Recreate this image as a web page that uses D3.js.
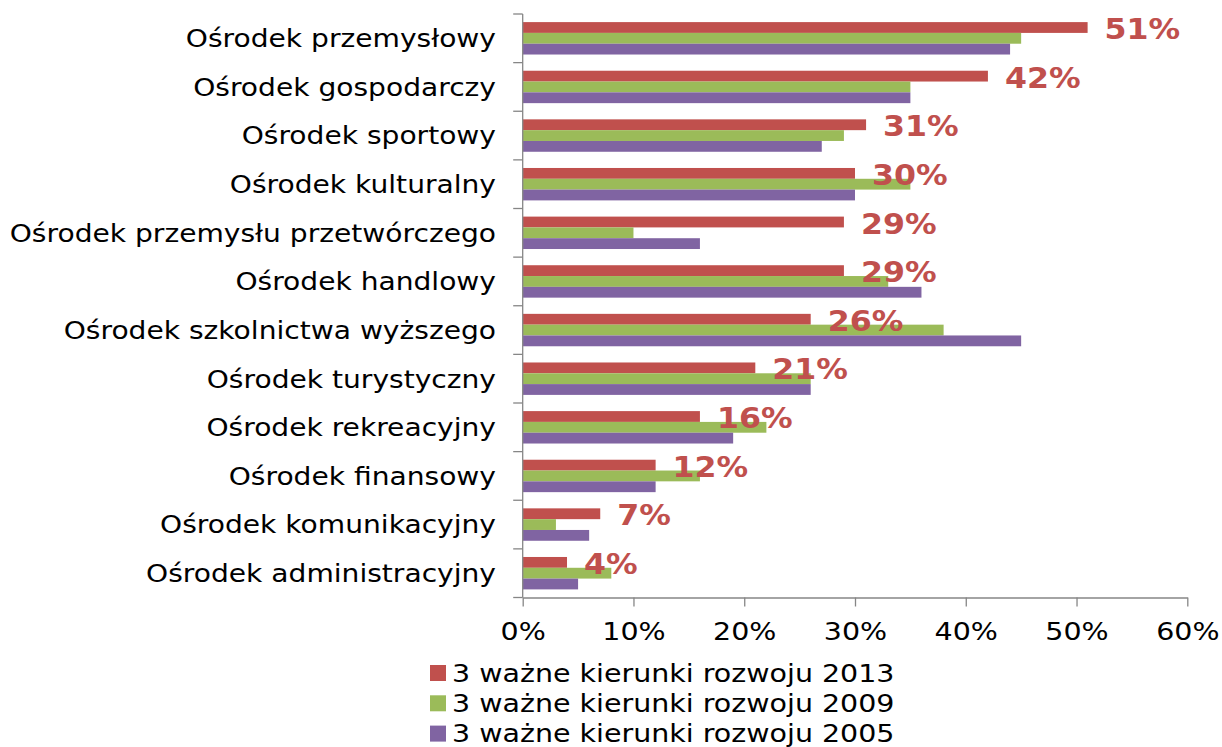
<!DOCTYPE html>
<html><head><meta charset="utf-8">
<script src="https://cdn.jsdelivr.net/npm/d3@7"></script>
<style>
html,body{margin:0;padding:0;background:#fff;}
svg{display:block;font-family:"DejaVu Sans",Verdana,sans-serif;}
</style></head>
<body>
<svg id="chart" width="1222" height="747"></svg>
<script>
const categories = ["Ośrodek przemysłowy","Ośrodek gospodarczy","Ośrodek sportowy","Ośrodek kulturalny","Ośrodek przemysłu przetwórczego","Ośrodek handlowy","Ośrodek szkolnictwa wyższego","Ośrodek turystyczny","Ośrodek rekreacyjny","Ośrodek finansowy","Ośrodek komunikacyjny","Ośrodek administracyjny"];
const seriesNames = ["3 ważne kierunki rozwoju 2013","3 ważne kierunki rozwoju 2009","3 ważne kierunki rozwoju 2005"];
const values2013 = [51,42,31,30,29,29,26,21,16,12,7,4];
const values2009 = [45,35,29,35,10,33,38,26,22,16,3,8];
const values2005 = [44,35,27,30,16,36,45,26,19,12,6,5];
const xTicks = [0,10,20,30,40,50,60];
const colors = ["#C0504D","#9BBB59","#8064A2"];

const seriesValues = [values2013, values2009, values2005];
const svg = d3.select("#chart");

const x = d3.scaleLinear().domain([0,60]).range([522.7,1187.3]);
const y0 = d3.scaleBand().domain(categories).range([14,597.5]).padding(0);
const y1 = d3.scaleBand().domain(seriesNames).range([0,y0.bandwidth()]).paddingInner(0).paddingOuter(0.75);

// bars
const g = svg.append("g");
categories.forEach((c,i)=>{
  seriesNames.forEach((s,j)=>{
    g.append("rect")
      .attr("x", x(0))
      .attr("y", y0(c)+y1(s))
      .attr("width", x(seriesValues[j][i])-x(0))
      .attr("height", y1.bandwidth())
      .attr("fill", colors[j]);
  });
});

// y axis
const axisColor = "#868686";
svg.append("line").attr("x1",x(0)).attr("x2",x(0)).attr("y1",y0.range()[0]).attr("y2",y0.range()[1])
  .attr("stroke",axisColor).attr("stroke-width",1.3);
const bounds = categories.map(c=>y0(c)).concat([y0.range()[1]]);
svg.selectAll(".ytick").data(bounds).enter().append("line")
  .attr("x1",x(0)-9.5).attr("x2",x(0)).attr("y1",d=>d).attr("y2",d=>d)
  .attr("stroke",axisColor).attr("stroke-width",1.3);

// x axis
const xAxis = d3.axisBottom(x).tickValues(xTicks).tickFormat(d=>d+"%").tickSizeInner(9).tickSizeOuter(0).tickPadding(16);
const xg = svg.append("g").attr("transform",`translate(0,${y0.range()[1]})`).call(xAxis);
xg.select(".domain").attr("stroke",axisColor).attr("stroke-width",1.3);
xg.selectAll(".tick line").attr("stroke",axisColor).attr("stroke-width",1.3);
xg.selectAll(".tick text").attr("font-size",25).attr("fill","#000").attr("font-family","DejaVu Sans")
  .each(function(){
    const t = d3.select(this);
    const yy = +t.attr("y");
    t.attr("y",0).attr("transform",`translate(0,${yy}) scale(1.14,1)`);
  });

// category labels
svg.selectAll(".cat").data(categories).enter().append("text")
  .attr("transform",d=>`translate(496,${y0(d)+y0.bandwidth()/2}) scale(1.125,1)`)
  .attr("text-anchor","end").attr("dominant-baseline","central")
  .attr("font-size",25).attr("fill","#000").text(d=>d);

// data labels (2013)
svg.selectAll(".lbl").data(categories).enter().append("text")
  .attr("transform",(d,i)=>`translate(${x(values2013[i])+17},${y0(d)+y1(seriesNames[0])+y1.bandwidth()/2+1.5}) scale(1.09,1)`)
  .attr("dominant-baseline","central")
  .attr("font-size",29).attr("font-weight","bold").attr("fill",colors[0])
  .text((d,i)=>values2013[i]+"%");

// legend
const lg = svg.append("g");
seriesNames.forEach((s,j)=>{
  const yy = 673 + j*30.3;
  lg.append("rect").attr("x",430).attr("y",yy-8).attr("width",16).attr("height",16).attr("fill",colors[j]);
  lg.append("text").attr("transform",`translate(452,${yy}) scale(1.14,1)`).attr("dominant-baseline","central")
    .attr("font-size",25).attr("fill","#000").text(s);
});
</script>
</body></html>
